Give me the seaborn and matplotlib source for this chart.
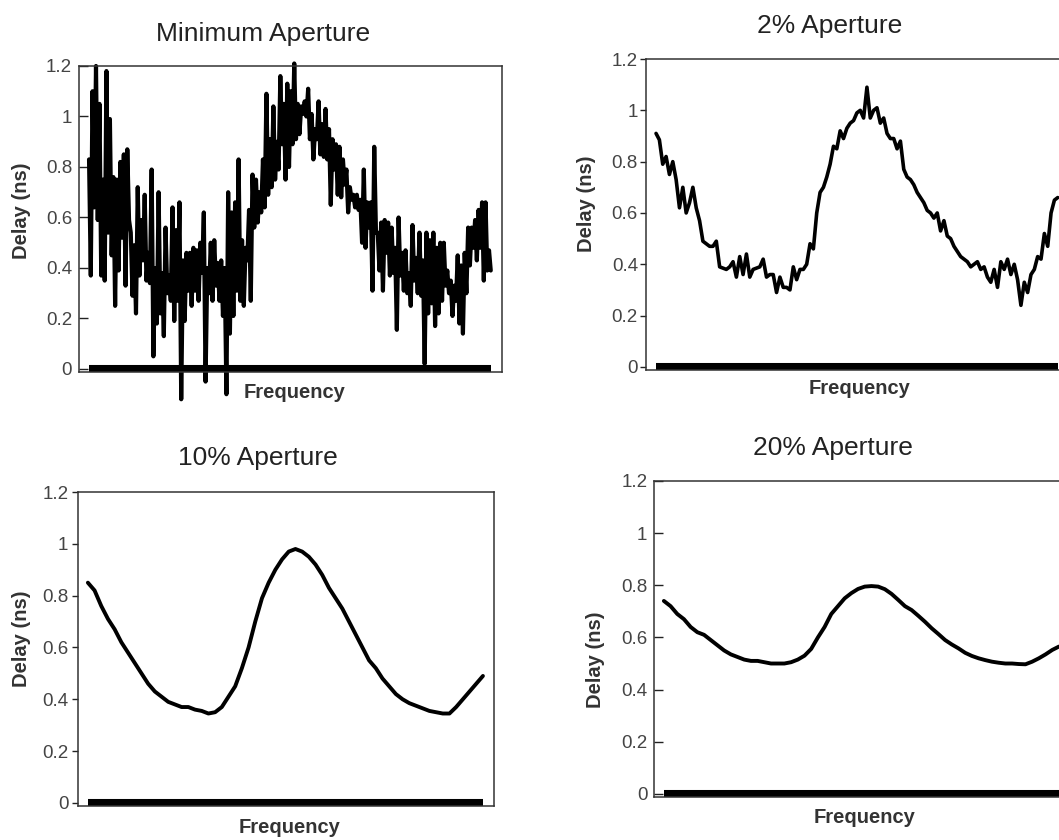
import numpy as np
import pandas as pd
import matplotlib
matplotlib.use("Agg")
import matplotlib.pyplot as plt
from matplotlib import font_manager
import seaborn as sns

# ---------------- data ----------------
titles = ["Minimum Aperture", "2% Aperture", "10% Aperture", "20% Aperture"]
x_label = "Frequency"
y_label = "Delay (ns)"
y_ticks = [0, 0.2, 0.4, 0.6, 0.8, 1.0, 1.2]
y_tick_labels = ["0", "0.2", "0.4", "0.6", "0.8", "1", "1.2"]

# Minimum aperture: very noisy trace (alternating upper / lower excursions)
delay_min = [
    0.83, 0.37, 1.10, 0.64, 1.20, 0.59, 1.05, 0.37, 0.75, 0.35,
    1.18, 0.54, 0.99, 0.45, 0.76, 0.25, 0.75, 0.39, 0.82, 0.52,
    0.85, 0.33, 0.87, 0.59, 0.54, 0.29, 0.49, 0.22, 0.72, 0.37,
    0.59, 0.43, 0.69, 0.35, 0.46, 0.34, 0.79, 0.05, 0.40, 0.18,
    0.70, 0.22, 0.38, 0.13, 0.56, 0.30, 0.37, 0.27, 0.64, 0.19,
    0.55, 0.27, 0.66, -0.12, 0.43, 0.19, 0.46, 0.31, 0.46, 0.25,
    0.48, 0.31, 0.47, 0.27, 0.50, 0.38, 0.62, -0.05, 0.40, 0.30,
    0.50, 0.27, 0.51, 0.33,
    0.42, 0.27, 0.43, 0.21, 0.40, -0.10, 0.70, 0.14, 0.62, 0.21,
    0.66, 0.31, 0.83, 0.27, 0.51, 0.25, 0.48, 0.43, 0.63, 0.27,
    0.77, 0.56, 0.75, 0.58, 0.70, 0.62, 0.83, 0.64, 1.09, 0.69,
    0.91, 0.72, 1.04, 0.75, 0.90, 0.79, 1.16, 0.89, 1.05, 0.75,
    1.13, 0.80, 1.10, 0.89, 1.21, 0.91, 1.05, 0.93, 1.04, 1.01,
    1.06, 1.00, 1.11, 0.91, 1.01, 0.83, 0.95, 0.91, 1.06, 0.85,
    0.97, 0.84, 1.03, 0.83, 0.95, 0.65, 0.91, 0.79, 0.89, 0.69,
    0.88, 0.68, 0.83, 0.73, 0.79, 0.62, 0.72, 0.67,
    0.69, 0.64, 0.69, 0.63, 0.67, 0.50, 0.79, 0.48, 0.66, 0.56,
    0.66, 0.31, 0.88, 0.54, 0.54, 0.39, 0.58, 0.31, 0.59, 0.46,
    0.58, 0.37, 0.56, 0.38, 0.48, 0.155, 0.60, 0.37, 0.46, 0.31,
    0.47, 0.30, 0.38, 0.25, 0.57, 0.35, 0.44, 0.30, 0.54, 0.29,
    0.43, 0.02, 0.54, 0.22, 0.51, 0.26, 0.54, 0.17, 0.48, 0.22,
    0.50, 0.27, 0.50, 0.33, 0.39, 0.30, 0.35, 0.21, 0.33, 0.27,
    0.45, 0.18, 0.41, 0.14, 0.46, 0.30, 0.56, 0.41, 0.56, 0.48,
    0.59, 0.43, 0.63, 0.48, 0.66, 0.35, 0.66, 0.39, 0.47, 0.39,
]

delay_2 = [
    0.91, 0.885, 0.79, 0.82, 0.75, 0.80, 0.73, 0.62, 0.70, 0.60,
    0.64, 0.70, 0.62, 0.57, 0.49, 0.48, 0.47, 0.47, 0.49, 0.39,
    0.385, 0.38, 0.39, 0.41, 0.35, 0.43, 0.36, 0.44, 0.35, 0.38,
    0.385, 0.39, 0.42, 0.35, 0.36, 0.36, 0.29, 0.35, 0.31, 0.31,
    0.30, 0.39, 0.34, 0.38, 0.38, 0.40, 0.48, 0.46, 0.60, 0.68,
    0.70, 0.74, 0.79, 0.86, 0.85, 0.92, 0.89, 0.93, 0.95, 0.96,
    0.99, 1.00, 0.97, 1.09, 0.97, 1.00, 1.01, 0.95, 0.97, 0.91,
    0.89, 0.89, 0.85, 0.88, 0.77, 0.74, 0.73, 0.71, 0.68, 0.66,
    0.64, 0.61, 0.60, 0.58, 0.60, 0.53, 0.57, 0.51, 0.50, 0.47,
    0.45, 0.43, 0.42, 0.41, 0.39, 0.40, 0.41, 0.38, 0.39, 0.35,
    0.33, 0.38, 0.31, 0.41, 0.38, 0.42, 0.36, 0.40, 0.34, 0.24,
    0.33, 0.29, 0.36, 0.38, 0.43, 0.42, 0.52, 0.47, 0.60, 0.65,
    0.66,
]

delay_10 = [
    0.85, 0.82, 0.76, 0.71, 0.67, 0.62, 0.58, 0.54, 0.50, 0.46,
    0.43, 0.41, 0.39, 0.38, 0.37, 0.37, 0.36, 0.355, 0.345, 0.35,
    0.37, 0.41, 0.45, 0.52, 0.60, 0.70, 0.79, 0.85, 0.90, 0.94,
    0.97, 0.98, 0.97, 0.95, 0.92, 0.88, 0.83, 0.79, 0.75, 0.70,
    0.65, 0.60, 0.55, 0.52, 0.48, 0.45, 0.42, 0.40, 0.385, 0.375,
    0.365, 0.355, 0.35, 0.345, 0.345, 0.37, 0.40, 0.43, 0.46, 0.49,
]

delay_20 = [
    0.74, 0.72, 0.69, 0.67, 0.64, 0.62, 0.61, 0.59, 0.57, 0.55,
    0.535, 0.525, 0.515, 0.51, 0.51, 0.505, 0.50, 0.50, 0.50, 0.505,
    0.515, 0.53, 0.556, 0.60, 0.64, 0.69, 0.72, 0.75, 0.77, 0.786,
    0.795, 0.797, 0.795, 0.785, 0.767, 0.744, 0.72, 0.705, 0.683, 0.66,
    0.635, 0.613, 0.59, 0.573, 0.558, 0.541, 0.529, 0.52, 0.513, 0.507,
    0.503, 0.50, 0.50, 0.498, 0.497, 0.507, 0.52, 0.535, 0.552, 0.565,
]

# zero-delay band drawn across the measured frequency span
band_freq = [0.0, 1.0]
band_delay = [0.0, 0.0]

series = [delay_min, delay_2, delay_10, delay_20]

# ---------------- style ----------------
sns.set_style("white")
avail = {f.name for f in font_manager.fontManager.ttflist}
plt.rcParams["font.family"] = ["Liberation Sans", "DejaVu Sans"]
if "Liberation Sans Narrow" in avail:
    title_family = ["Liberation Sans Narrow", "Liberation Sans", "DejaVu Sans"]
    title_size = 23
else:
    title_family = ["Liberation Sans", "DejaVu Sans"]
    title_size = 19

W, H = 1059, 840
fig = plt.figure(figsize=(W / 100, H / 100), dpi=100)

# axes boxes in pixel terms: left, top, right, bottom
boxes = [(79, 66, 502, 372), (646, 59, 1069, 370),
         (78, 492, 494, 806), (654, 481, 1070, 797)]
tick_dir = ["in", "out", "out", "in"]
tick_len = [6.5, 4.3, 4.3, 6.5]
tick_pad = [5.0, 1.5, 2.7, 4.8]
title_pos = [(263.5, 41.5), (829.5, 33), (258, 465), (833, 455)]
xlab_pos = [(294.5, 398), (860, 394), (289.5, 833), (865, 823)]
ylab_pos = [(22, 211), (586, 204), (22, 639), (595.5, 660)]
line_w = [3.0, 2.6, 2.8, 2.8]

for i in range(4):
    l, t, r, b = boxes[i]
    ax = fig.add_axes([l / W, 1 - b / H, (r - l) / W, (b - t) / H])
    vals = series[i]
    freq = np.linspace(0, 1, len(vals))
    df = pd.DataFrame({"freq": freq, "delay": vals})
    sns.lineplot(data=df, x="freq", y="delay", ax=ax, color="black",
                 linewidth=line_w[i], estimator=None, sort=False,
                 clip_on=(i != 0), solid_joinstyle="round")
    sns.lineplot(x=band_freq, y=band_delay, ax=ax, color="black",
                 linewidth=5.8, solid_capstyle="butt", estimator=None)
    ax.set_xlim(-0.025, 1.028)
    ax.set_ylim(-0.012, 1.2)
    ax.set_xticks([])
    ax.set_yticks(y_ticks)
    ax.set_yticklabels(y_tick_labels)
    ax.set_xlabel("")
    ax.set_ylabel("")
    ax.tick_params(axis="y", direction=tick_dir[i], length=tick_len[i],
                   width=1.0, color="#222222", pad=tick_pad[i],
                   labelsize=13.5, labelcolor="#444444", left=True)
    for sp in ax.spines.values():
        sp.set_visible(True)
        sp.set_color("#333333")
        sp.set_linewidth(1.1)

    tx, ty = title_pos[i]
    fig.text(tx / W, 1 - ty / H, titles[i], ha="center", va="baseline",
             fontsize=title_size, family=title_family, color="#222222")
    xx, xy = xlab_pos[i]
    fig.text(xx / W, 1 - xy / H, x_label, ha="center", va="baseline",
             fontsize=14.5, fontweight="bold", color="#333333")
    yx, yy = ylab_pos[i]
    fig.text(yx / W, 1 - yy / H, y_label, ha="center", va="center",
             rotation=90, fontsize=14.5, fontweight="bold", color="#333333")

fig.savefig("out.png", dpi=100)
